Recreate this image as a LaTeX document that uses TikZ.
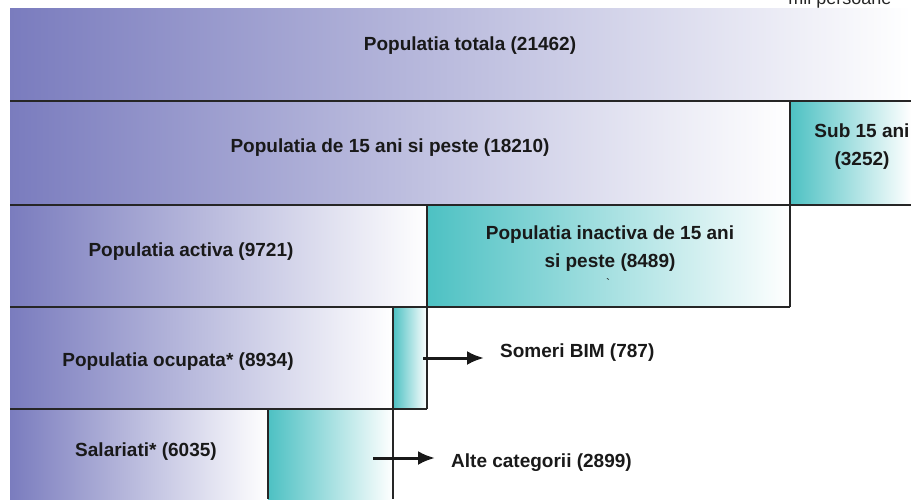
\documentclass[tikz,border=0pt]{standalone}
\usepackage{fontspec}
\setmainfont{Liberation Sans}
\usepackage{xcolor}
\usetikzlibrary{arrows.meta,positioning}
\definecolor{PopViolet}{HTML}{7A7CBE}
\definecolor{PopTeal}{HTML}{4DC1C3}
\definecolor{PopLine}{HTML}{262626}

\begin{document}
\begin{tikzpicture}[x=1pt, y=-1pt,
  band/.style={rectangle, inner sep=0pt, outer sep=0pt, anchor=north west},
  violetband/.style={band, left color=PopViolet, right color=white},
  tealband/.style={band, left color=PopTeal, right color=white},
  lbl/.style={font=\bfseries\fontsize{19}{28}\selectfont, align=center, inner sep=0pt, text=black!90},
  rule/.style={draw=PopLine, line width=2.2pt},
  arrow/.style={-{Latex[length=17pt,width=14pt]}, line width=3pt, draw=black!90, shorten >=16pt}
]
  \useasboundingbox (0,0) rectangle (911,499);

  \node[violetband, minimum width=901, minimum height=93] (tot) at (10,8) {};
  \node[violetband, minimum width=780, minimum height=104] (p15) at (10,101) {};
  \node[tealband, minimum width=121, minimum height=104, right=0pt of p15] (sub) {};
  \node[violetband, minimum width=417, minimum height=102] (act) at (10,205) {};
  \node[tealband, minimum width=363, minimum height=102, right=0pt of act] (inact) {};
  \node[violetband, minimum width=383, minimum height=102] (ocup) at (10,307) {};
  \node[tealband, minimum width=34, minimum height=102, right=0pt of ocup] (sliver) {};
  \node[violetband, minimum width=258, minimum height=90] (sal) at (10,409) {};
  \node[tealband, minimum width=125, minimum height=90, right=0pt of sal] (alte) {};

  \draw[rule] (tot.south west) -- (tot.south east);
  \draw[rule] (p15.south west) -- (sub.south east);
  \draw[rule] (sub.north west) -- (inact.south east);
  \draw[rule] (act.south west) -- (inact.south east);
  \draw[rule] (inact.north west) -- (sliver.south east);
  \draw[rule] (ocup.south west) -- (sliver.south east);
  \draw[rule] (sliver.north west) -- (alte.south east);
  \draw[rule] (alte.north west) -- (alte.south west);

  \node[anchor=base, font=\fontsize{18}{20}\selectfont, text=black!85] (unit) at (840,4) {mil persoane};
  \node[lbl] (ttot) at (470,46) {Populatia totala (21462)};
  \node[lbl] (tp15) at (390,148) {Populatia de 15 ani si peste (18210)};
  \node[lbl] (tsub) at (862,147) {Sub 15 ani\\(3252)};
  \node[lbl] (tact) at (191,252) {Populatia activa (9721)};
  \node[lbl] (tinact) at (610,249) {Populatia inactiva de 15 ani\\si peste (8489)};
  \node[lbl, font=\fontsize{12}{12}\selectfont] (tick) at (608,283) {\textasciigrave};
  \node[lbl] (tocup) at (178,362) {Populatia ocupata* (8934)};
  \node[lbl] (tsal) at (146,452) {Salariati* (6035)};
  \node[lbl, anchor=west] (som) at (500,353) {Someri BIM (787)};
  \node[lbl, anchor=west] (talte) at (451,463) {Alte categorii (2899)};

  \coordinate (a2) at (373,458);
  \draw[arrow] ([xshift=-4pt]sliver.east) -- (sliver.east -| som.west);
  \draw[arrow] (a2) -- (a2 -| talte.west);
\end{tikzpicture}
\end{document}
